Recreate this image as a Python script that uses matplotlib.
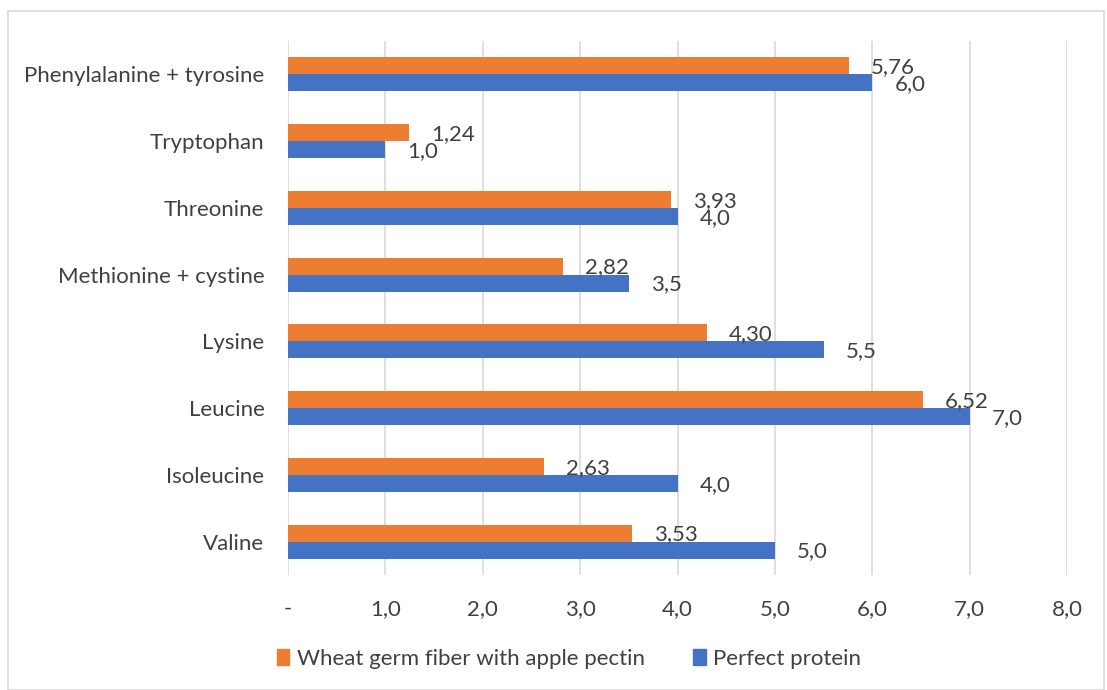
import matplotlib
matplotlib.use("Agg")
import matplotlib.pyplot as plt
from matplotlib.patches import Rectangle, Patch
import numpy as np

categories = ["Valine", "Isoleucine", "Leucine", "Lysine", "Methionine + cystine",
              "Threonine", "Tryptophan", "Phenylalanine + tyrosine"]
wheat = [3.53, 2.63, 6.52, 4.30, 2.82, 3.93, 1.24, 5.76]
perfect = [5.0, 4.0, 7.0, 5.5, 3.5, 4.0, 1.0, 6.0]
wheat_labels = ["3,53", "2,63", "6,52", "4,30", "2,82", "3,93", "1,24", "5,76"]
perfect_labels = ["5,0", "4,0", "7,0", "5,5", "3,5", "4,0", "1,0", "6,0"]
xticks = [0, 1, 2, 3, 4, 5, 6, 7, 8]
xticklabels = ["-", "1,0", "2,0", "3,0", "4,0", "5,0", "6,0", "7,0", "8,0"]

plt.rcParams['font.family'] = ['Lato', 'DejaVu Sans']
txt = "#404040"
orange = "#ED7D31"
blue = "#4472C4"
fs = 16

fig = plt.figure(figsize=(11.07, 6.9), dpi=100)
fig.patches.append(Rectangle((8/1107, 0.0), 1096/1107, 1 - 11/690, transform=fig.transFigure,
                             fill=False, edgecolor="#D9D9D9", linewidth=1.2))
ax = fig.add_axes([288/1107, 1 - 575/690, (1067 - 288)/1107, (575 - 41)/690])

y = np.arange(len(categories))
h = 0.255
ax.barh(y + h/2, wheat, height=h, color=orange, zorder=3)
ax.barh(y - h/2, perfect, height=h, color=blue, zorder=3)

for yi, v, s in zip(y, wheat, wheat_labels):
    ax.annotate(s, (v, yi + h/2), xytext=(16, -1), textcoords="offset points",
                va="center", ha="left", fontsize=fs, color=txt, zorder=4)
for yi, v, s in zip(y, perfect, perfect_labels):
    ax.annotate(s, (v, yi - h/2), xytext=(16, -1), textcoords="offset points",
                va="center", ha="left", fontsize=fs, color=txt, zorder=4)

ax.set_xlim(0, 8)
ax.set_ylim(-0.5, 7.5)
ax.set_xticks(xticks)
ax.set_xticklabels(xticklabels, fontsize=fs, color=txt)
ax.set_yticks(y)
ax.set_yticklabels(categories, fontsize=fs, color=txt)
ax.tick_params(axis="both", length=0)
ax.tick_params(axis="x", pad=17)
ax.tick_params(axis="y", pad=17)
ax.grid(axis="x", color="#D9D9D9", linewidth=1.2, zorder=0)
for sp in ax.spines.values():
    sp.set_visible(False)

handles = [Patch(color=orange, label="Wheat germ fiber with apple pectin"),
           Patch(color=blue, label="Perfect protein")]
fig.legend(handles=handles, loc="center", bbox_to_anchor=(569/1107, 1 - 659/690), ncol=2,
           frameon=False, fontsize=fs, handlelength=0.55, handleheight=0.7,
           handletextpad=0.35, columnspacing=2.2, labelcolor=txt)

fig.savefig("out.png", dpi=100)
